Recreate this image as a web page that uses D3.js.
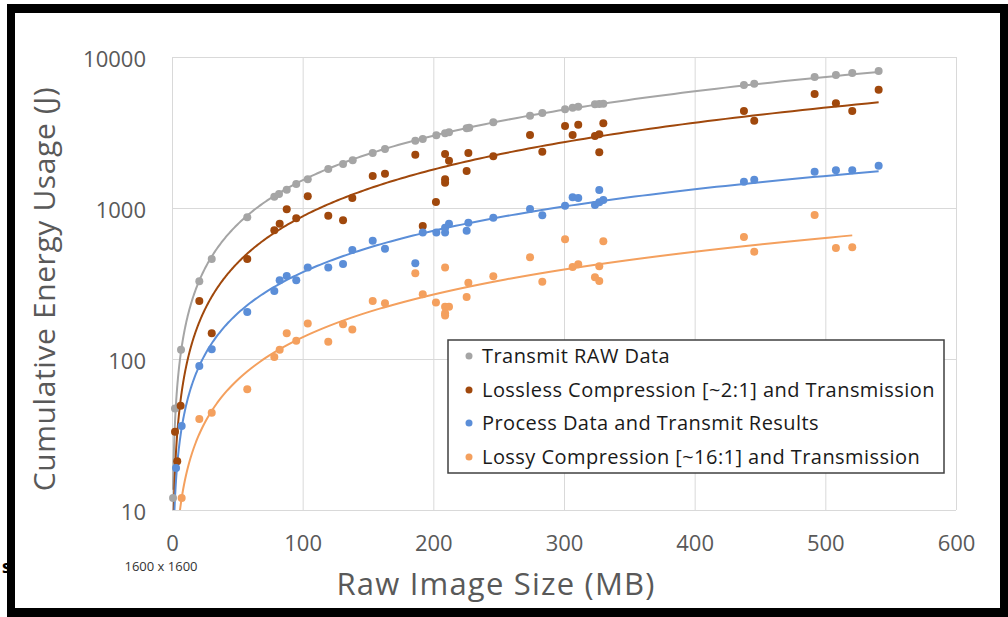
<!DOCTYPE html>
<html>
<head>
<meta charset="utf-8">
<script src="https://cdn.jsdelivr.net/npm/d3@7/dist/d3.min.js"></script>
<style>
  body { margin: 0; background: #fff; }
  svg text { font-family: "Open Sans", Lato, sans-serif; }
</style>
</head>
<body>
<svg id="chart"></svg>
<script>
// values: [raw image size (MB), energy (J)]
const transmitRaw = [
  [0.8, 12], [2.3, 47], [6.9, 115], [20.9, 327], [30.4, 459], [57.6, 867],
  [78.3, 1188], [81.9, 1239], [87.8, 1322], [95.1, 1442], [103.9, 1549],
  [119.6, 1813], [130.9, 1956], [138.3, 2069], [153.6, 2313], [163, 2459],
  [186.2, 2791], [191.9, 2864], [202.3, 3030], [209, 3124], [212, 3172],
  [225.5, 3373], [227.5, 3404], [245.9, 3698], [274, 4084], [283.4, 4260],
  [300.8, 4508], [306.6, 4616], [310.9, 4688], [323.7, 4864], [327, 4885],
  [330.1, 4907], [437.7, 6526], [445.6, 6653], [491.8, 7379], [508.1, 7603],
  [520.6, 7838], [540.8, 8077]
];
const lossless = [
  [2.3, 33], [4, 21], [6.6, 49], [20.9, 242], [30.4, 148], [57.6, 459],
  [78.3, 712], [82.4, 787], [87.8, 980], [95.1, 855], [103.9, 1195],
  [119.6, 890], [130.9, 829], [138, 1165], [153.6, 1629], [163, 1687],
  [186.2, 2254], [191.9, 760], [202, 1096], [209, 2279], [209, 1549],
  [209, 1471], [212, 2058], [225.5, 1758], [226.8, 2313], [245.9, 2199],
  [274, 3044], [283.4, 2360], [300.8, 3491], [306.6, 3044], [310.9, 3563],
  [323.7, 2997], [327, 3076], [327, 2338], [330.1, 3639], [437.7, 4389],
  [445.6, 3786], [491.8, 5689], [508.1, 4933], [520.6, 4389], [540.8, 6074]
];
const processed = [
  [3.1, 19], [7.4, 36], [20.9, 90], [30.4, 116], [57.6, 205], [78.3, 282],
  [82.4, 332], [87.8, 355], [95.1, 332], [103.9, 403], [119.6, 403],
  [130.9, 426], [138, 527], [153.6, 608], [163, 538], [186.2, 430],
  [191.9, 687], [202.3, 687], [209, 687], [209, 740], [212, 785],
  [225.5, 708], [226.8, 800], [245.9, 863], [274, 985], [283.4, 895],
  [300.8, 1035], [306.6, 1177], [310.9, 1165], [323.7, 1047], [327, 1315],
  [327, 1091], [330.1, 1130], [437.7, 1494], [445.6, 1540], [491.8, 1740],
  [508.1, 1777], [520.6, 1777], [540.8, 1906]
];
const lossy = [
  [7.4, 12], [20.9, 40], [30.4, 44], [57.6, 63], [78.3, 103], [82.4, 115],
  [87.8, 148], [95.1, 132], [103.9, 172], [119.6, 130], [130.9, 170],
  [138, 157], [153.6, 242], [163, 234], [186.2, 370], [191.9, 268],
  [202, 237], [209, 403], [209, 222], [209, 201], [209, 194], [212, 222],
  [225.5, 257], [226.8, 320], [245.9, 353], [274, 471], [283.4, 325],
  [300.8, 621], [306.6, 407], [310.9, 424], [323.7, 348], [327, 329],
  [327, 411], [330.1, 602], [437.7, 643], [445.6, 514], [491.8, 899],
  [508.1, 543], [520.6, 549]
];

const seriesNames = [
  'Transmit RAW Data',
  'Lossless Compression [~2:1] and Transmission',
  'Process Data and Transmit Results',
  'Lossy Compression [~16:1] and Transmission'
];
const seriesColors = ['#a5a5a5', '#a0480c', '#5b8ed8', '#f4a05e'];
const seriesData = [transmitRaw, lossless, processed, lossy];

const xTicks = [0, 100, 200, 300, 400, 500, 600];
const yTicks = [10, 100, 1000, 10000];

const width = 1008;
const height = 617;
const plotLeft = 172, plotRight = 956, plotTop = 57, plotBottom = 510;

const svg = d3.select('#chart')
  .attr('width', width)
  .attr('height', height);

const x = d3.scaleLinear().domain([0, 600]).range([plotLeft, plotRight]);
const y = d3.scaleLog().domain([10, 10000]).range([plotBottom, plotTop]);

// stray letter on the left edge of the original screenshot
svg.append('text')
  .attr('x', 2)
  .attr('y', 573)
  .attr('font-size', 17)
  .attr('font-weight', 'bold')
  .attr('fill', '#000')
  .text('s');

// gridlines
svg.append('g')
  .attr('transform', `translate(0, ${plotTop})`)
  .call(d3.axisBottom(x).tickValues(xTicks).tickSize(plotBottom - plotTop).tickFormat(''))
  .call(g => g.select('.domain').remove())
  .call(g => g.selectAll('line').attr('stroke', '#d9d9d9'));

svg.append('g')
  .attr('transform', `translate(${plotLeft}, 0)`)
  .call(d3.axisRight(y).tickValues(yTicks).tickSize(plotRight - plotLeft).tickFormat(''))
  .call(g => g.select('.domain').remove())
  .call(g => g.selectAll('line').attr('stroke', '#d9d9d9'));

// tick labels
svg.append('g')
  .attr('transform', `translate(0, ${plotBottom})`)
  .call(d3.axisBottom(x).tickValues(xTicks).tickSize(0).tickFormat(d3.format('d')))
  .call(g => g.select('.domain').remove())
  .call(g => g.selectAll('text')
    .attr('y', 33)
    .attr('dy', '0.35em')
    .attr('font-size', 22)
    .attr('font-family', 'Lato')
    .attr('fill', '#595959'));

svg.append('g')
  .attr('transform', `translate(${plotLeft}, 0)`)
  .call(d3.axisLeft(y).tickValues(yTicks).tickSize(0).tickFormat(d3.format('d')))
  .call(g => g.select('.domain').remove())
  .call(g => g.selectAll('text')
    .attr('x', -26)
    .attr('dy', '0.45em')
    .attr('font-size', 22)
    .attr('font-family', 'Lato')
    .attr('fill', '#595959'));

svg.append('text')
  .attr('x', 161)
  .attr('y', 566)
  .attr('dy', '0.35em')
  .attr('text-anchor', 'middle')
  .attr('font-size', 13)
  .attr('font-family', 'Lato')
  .attr('fill', '#333')
  .text('1600 x 1600');

// axis titles
svg.append('text')
  .attr('x', 496)
  .attr('y', 584)
  .attr('dy', '0.35em')
  .attr('text-anchor', 'middle')
  .attr('font-size', 31)
  .attr('letter-spacing', 1.2)
  .attr('fill', '#595959')
  .text('Raw Image Size (MB)');

svg.append('text')
  .attr('transform', 'translate(44, 289) rotate(-90)')
  .attr('dy', '0.35em')
  .attr('text-anchor', 'middle')
  .attr('font-size', 30)
  .attr('letter-spacing', 0.6)
  .attr('fill', '#595959')
  .text('Cumulative Energy Usage (J)');

// power trendlines (least squares in log-log space, like the spreadsheet)
const powerFit = pts => {
  const lx = pts.map(d => Math.log(d[0]));
  const ly = pts.map(d => Math.log(d[1]));
  const mx = d3.mean(lx), my = d3.mean(ly);
  const b = d3.sum(lx, (v, i) => (v - mx) * (ly[i] - my)) / d3.sum(lx, v => (v - mx) * (v - mx));
  const a = Math.exp(my - b * mx);
  return v => a * Math.pow(v, b);
};

svg.append('clipPath')
  .attr('id', 'plot-clip')
  .append('rect')
  .attr('x', plotLeft)
  .attr('y', plotTop)
  .attr('width', plotRight - plotLeft)
  .attr('height', plotBottom - plotTop);

const xStart = d3.min(seriesData.flat(), d => d[0]);
const line = d3.line().x(d => x(d[0])).y(d => y(d[1]));

const lines = svg.append('g').attr('clip-path', 'url(#plot-clip)');
seriesData.forEach((pts, i) => {
  const f = powerFit(pts);
  const xEnd = d3.max(pts, d => d[0]);
  const samples = d3.range(0, 401).map(k => {
    const v = xStart * Math.pow(xEnd / xStart, k / 400);
    return [v, f(v)];
  });
  lines.append('path')
    .datum(samples)
    .attr('fill', 'none')
    .attr('stroke', seriesColors[i])
    .attr('stroke-width', 2)
    .attr('d', line);
});

// points
seriesData.forEach((pts, i) => {
  svg.append('g')
    .selectAll('circle')
    .data(pts)
    .join('circle')
    .attr('cx', d => x(d[0]))
    .attr('cy', d => y(d[1]))
    .attr('r', 4)
    .attr('fill', seriesColors[i]);
});

// legend
const legend = svg.append('g');
legend.append('rect')
  .attr('x', 448)
  .attr('y', 340)
  .attr('width', 496)
  .attr('height', 133)
  .attr('fill', '#fff')
  .attr('stroke', '#404040')
  .attr('stroke-width', 1.5);

const rowY = [356, 390, 423, 457];
seriesNames.forEach((name, i) => {
  legend.append('circle')
    .attr('cx', 469)
    .attr('cy', rowY[i])
    .attr('r', 3.5)
    .attr('fill', seriesColors[i]);
  legend.append('text')
    .attr('x', 482)
    .attr('y', rowY[i])
    .attr('dy', '0.35em')
    .attr('font-size', 20)
    .attr('letter-spacing', 0.45)
    .attr('fill', '#1a1a1a')
    .text(name);
});

// black frame around the screenshot
const frame = svg.append('g').attr('fill', '#000');
frame.append('rect').attr('x', 7).attr('y', 4).attr('width', 1001).attr('height', 9);
frame.append('rect').attr('x', 7).attr('y', 4).attr('width', 8).attr('height', 613);
frame.append('rect').attr('x', 7).attr('y', 608).attr('width', 1001).attr('height', 9);
frame.append('rect').attr('x', 1000).attr('y', 4).attr('width', 8).attr('height', 613);
</script>
</body>
</html>
